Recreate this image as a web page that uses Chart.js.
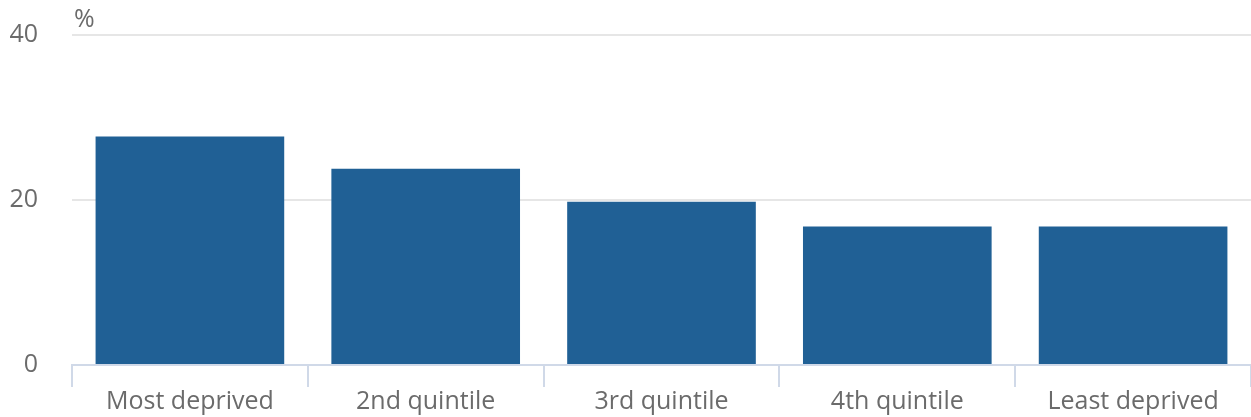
<!DOCTYPE html>
<html>
<head>
<meta charset="utf-8">
<script src="https://cdn.jsdelivr.net/npm/chart.js@4/dist/chart.umd.min.js"></script>
<style>
  html, body { margin: 0; padding: 0; background: #fff; }
  #wrap { width: 1251px; height: 417px; position: relative; }
</style>
</head>
<body>
<div id="wrap"><canvas id="chart"></canvas></div>
<script>
const categories = ["Most deprived", "2nd quintile", "3rd quintile", "4th quintile", "Least deprived"];
const values = [27.7, 23.8, 19.8, 16.8, 16.8];
const yMin = 0;
const yMax = 40;
const yStep = 20;
const unitLabel = "%";

const textColor = "#6b6b6b";
const fontFamily = "'Open Sans', 'Noto Sans', sans-serif";

// draws the "%" unit above the value axis
const unitPlugin = {
    id: "unitLabel",
    afterDraw(chart) {
        const ctx = chart.ctx;
        ctx.save();
        ctx.font = "25px " + fontFamily;
        ctx.fillStyle = textColor;
        ctx.textAlign = "left";
        ctx.textBaseline = "middle";
        ctx.fillText(unitLabel, chart.chartArea.left + 2, 20);
        ctx.restore();
    }
};

new Chart(document.getElementById("chart"), {
    type: "bar",
    data: {
        labels: categories,
        datasets: [{
            data: values,
            backgroundColor: "#206095",
            borderWidth: 0,
            barPercentage: 0.8,
            categoryPercentage: 1.0
        }]
    },
    options: {
        responsive: true,
        maintainAspectRatio: false,
        animation: false,
        layout: { padding: { top: 35, right: 0, left: 0, bottom: 0 } },
        plugins: {
            legend: { display: false },
            tooltip: { enabled: false }
        },
        scales: {
            x: {
                offset: true,
                grid: {
                    offset: true,
                    drawOnChartArea: false,
                    color: "#d0d9e8",
                    lineWidth: 2,
                    tickLength: 22
                },
                border: { color: "#d0d9e8", width: 2 },
                ticks: {
                    color: textColor,
                    font: { family: fontFamily, size: 25 },
                    padding: 0,
                    maxRotation: 0
                },
                afterFit(scale) { scale.height = 52; }
            },
            y: {
                min: yMin,
                max: yMax,
                grid: {
                    color: "#e6e6e6",
                    lineWidth: 2,
                    drawTicks: false
                },
                border: { display: false },
                ticks: {
                    stepSize: yStep,
                    color: textColor,
                    font: { family: fontFamily, size: 25 },
                    padding: 34
                },
                afterFit(scale) {
                    scale.width = 72;
                    scale.paddingTop = 0;
                    scale.paddingBottom = 0;
                }
            }
        }
    },
    plugins: [unitPlugin]
});
</script>
</body>
</html>
